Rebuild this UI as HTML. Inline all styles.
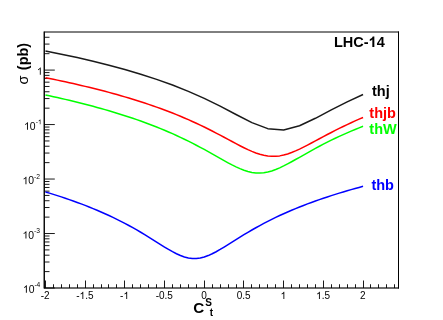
<!DOCTYPE html>
<html><head><meta charset="utf-8"><style>
html,body{margin:0;padding:0;background:#fff;}
svg{display:block;will-change:transform;font-family:"Liberation Sans",sans-serif;}
</style></head><body>
<svg width="443" height="320" viewBox="0 0 443 320">
<rect x="0" y="0" width="443" height="320" fill="#fff"/>
<path d="M44.3 32H399M398.5 31.5V288.5M44.3 288H399" fill="none" stroke="#000" stroke-width="1"/>
<line x1="44.25" y1="31.5" x2="44.25" y2="288.5" stroke="#000" stroke-width="1.4"/>
<line x1="44.3" y1="288" x2="398.7" y2="288" stroke="#000" stroke-width="0.3"/>
<g stroke="#000" stroke-width="0.9">
<line x1="45.50" y1="288" x2="45.50" y2="280.50"/>
<line x1="53.50" y1="288" x2="53.50" y2="284.25"/>
<line x1="61.50" y1="288" x2="61.50" y2="284.25"/>
<line x1="69.50" y1="288" x2="69.50" y2="284.25"/>
<line x1="77.50" y1="288" x2="77.50" y2="284.25"/>
<line x1="85.50" y1="288" x2="85.50" y2="280.50"/>
<line x1="93.50" y1="288" x2="93.50" y2="284.25"/>
<line x1="101.50" y1="288" x2="101.50" y2="284.25"/>
<line x1="108.50" y1="288" x2="108.50" y2="284.25"/>
<line x1="116.50" y1="288" x2="116.50" y2="284.25"/>
<line x1="124.50" y1="288" x2="124.50" y2="280.50"/>
<line x1="132.50" y1="288" x2="132.50" y2="284.25"/>
<line x1="140.50" y1="288" x2="140.50" y2="284.25"/>
<line x1="148.50" y1="288" x2="148.50" y2="284.25"/>
<line x1="156.50" y1="288" x2="156.50" y2="284.25"/>
<line x1="164.50" y1="288" x2="164.50" y2="280.50"/>
<line x1="172.50" y1="288" x2="172.50" y2="284.25"/>
<line x1="180.50" y1="288" x2="180.50" y2="284.25"/>
<line x1="188.50" y1="288" x2="188.50" y2="284.25"/>
<line x1="196.50" y1="288" x2="196.50" y2="284.25"/>
<line x1="204.50" y1="288" x2="204.50" y2="280.50"/>
<line x1="212.50" y1="288" x2="212.50" y2="284.25"/>
<line x1="220.50" y1="288" x2="220.50" y2="284.25"/>
<line x1="228.50" y1="288" x2="228.50" y2="284.25"/>
<line x1="236.50" y1="288" x2="236.50" y2="284.25"/>
<line x1="243.50" y1="288" x2="243.50" y2="280.50"/>
<line x1="251.50" y1="288" x2="251.50" y2="284.25"/>
<line x1="259.50" y1="288" x2="259.50" y2="284.25"/>
<line x1="267.50" y1="288" x2="267.50" y2="284.25"/>
<line x1="275.50" y1="288" x2="275.50" y2="284.25"/>
<line x1="283.50" y1="288" x2="283.50" y2="280.50"/>
<line x1="291.50" y1="288" x2="291.50" y2="284.25"/>
<line x1="299.50" y1="288" x2="299.50" y2="284.25"/>
<line x1="307.50" y1="288" x2="307.50" y2="284.25"/>
<line x1="315.50" y1="288" x2="315.50" y2="284.25"/>
<line x1="323.50" y1="288" x2="323.50" y2="280.50"/>
<line x1="331.50" y1="288" x2="331.50" y2="284.25"/>
<line x1="339.50" y1="288" x2="339.50" y2="284.25"/>
<line x1="347.50" y1="288" x2="347.50" y2="284.25"/>
<line x1="355.50" y1="288" x2="355.50" y2="284.25"/>
<line x1="363.50" y1="288" x2="363.50" y2="280.50"/>
<line x1="370.50" y1="288" x2="370.50" y2="284.25"/>
<line x1="378.50" y1="288" x2="378.50" y2="284.25"/>
<line x1="386.50" y1="288" x2="386.50" y2="284.25"/>
<line x1="394.50" y1="288" x2="394.50" y2="284.25"/>
<line x1="44.3" y1="288.00" x2="54.80" y2="288.00"/>
<line x1="44.3" y1="271.60" x2="49.50" y2="271.60"/>
<line x1="44.3" y1="262.01" x2="49.50" y2="262.01"/>
<line x1="44.3" y1="255.20" x2="49.50" y2="255.20"/>
<line x1="44.3" y1="249.92" x2="49.50" y2="249.92"/>
<line x1="44.3" y1="245.61" x2="49.50" y2="245.61"/>
<line x1="44.3" y1="241.96" x2="49.50" y2="241.96"/>
<line x1="44.3" y1="238.80" x2="49.50" y2="238.80"/>
<line x1="44.3" y1="236.01" x2="49.50" y2="236.01"/>
<line x1="44.3" y1="233.52" x2="54.80" y2="233.52"/>
<line x1="44.3" y1="217.12" x2="49.50" y2="217.12"/>
<line x1="44.3" y1="207.53" x2="49.50" y2="207.53"/>
<line x1="44.3" y1="200.72" x2="49.50" y2="200.72"/>
<line x1="44.3" y1="195.44" x2="49.50" y2="195.44"/>
<line x1="44.3" y1="191.13" x2="49.50" y2="191.13"/>
<line x1="44.3" y1="187.48" x2="49.50" y2="187.48"/>
<line x1="44.3" y1="184.32" x2="49.50" y2="184.32"/>
<line x1="44.3" y1="181.53" x2="49.50" y2="181.53"/>
<line x1="44.3" y1="179.04" x2="54.80" y2="179.04"/>
<line x1="44.3" y1="162.64" x2="49.50" y2="162.64"/>
<line x1="44.3" y1="153.05" x2="49.50" y2="153.05"/>
<line x1="44.3" y1="146.24" x2="49.50" y2="146.24"/>
<line x1="44.3" y1="140.96" x2="49.50" y2="140.96"/>
<line x1="44.3" y1="136.65" x2="49.50" y2="136.65"/>
<line x1="44.3" y1="133.00" x2="49.50" y2="133.00"/>
<line x1="44.3" y1="129.84" x2="49.50" y2="129.84"/>
<line x1="44.3" y1="127.05" x2="49.50" y2="127.05"/>
<line x1="44.3" y1="124.56" x2="54.80" y2="124.56"/>
<line x1="44.3" y1="108.16" x2="49.50" y2="108.16"/>
<line x1="44.3" y1="98.57" x2="49.50" y2="98.57"/>
<line x1="44.3" y1="91.76" x2="49.50" y2="91.76"/>
<line x1="44.3" y1="86.48" x2="49.50" y2="86.48"/>
<line x1="44.3" y1="82.17" x2="49.50" y2="82.17"/>
<line x1="44.3" y1="78.52" x2="49.50" y2="78.52"/>
<line x1="44.3" y1="75.36" x2="49.50" y2="75.36"/>
<line x1="44.3" y1="72.57" x2="49.50" y2="72.57"/>
<line x1="44.3" y1="70.08" x2="54.80" y2="70.08"/>
<line x1="44.3" y1="53.68" x2="49.50" y2="53.68"/>
<line x1="44.3" y1="44.09" x2="49.50" y2="44.09"/>
<line x1="44.3" y1="37.28" x2="49.50" y2="37.28"/>
</g>
<path d="M45.45 50.94 L61.33 54.15 L77.21 57.57 L93.09 61.25 L108.97 65.22 L124.85 69.52 L140.73 74.22 L156.61 79.37 L172.49 85.06 L188.37 91.38 L204.25 98.41 L220.13 106.17 L236.01 114.49 L251.89 122.61 L267.77 128.67 L283.65 129.99 L299.53 125.79 L315.41 118.29 L331.29 109.91 L347.17 101.86 L363.05 94.49" fill="none" stroke="#1a1a1a" stroke-width="1.5" stroke-linejoin="round"/>
<path d="M45.45 77.69 L49.42 78.49 L53.39 79.31 L57.36 80.14 L61.33 80.98 L65.30 81.84 L69.27 82.71 L73.24 83.60 L77.21 84.50 L81.18 85.43 L85.15 86.36 L89.12 87.32 L93.09 88.30 L97.06 89.29 L101.03 90.30 L105.00 91.34 L108.97 92.40 L112.94 93.48 L116.91 94.58 L120.88 95.70 L124.85 96.86 L128.82 98.03 L132.79 99.24 L136.76 100.47 L140.73 101.73 L144.70 103.03 L148.67 104.35 L152.64 105.71 L156.61 107.11 L160.58 108.54 L164.55 110.00 L168.52 111.51 L172.49 113.06 L176.46 114.64 L180.43 116.28 L184.40 117.95 L188.37 119.68 L192.34 121.45 L196.31 123.26 L200.28 125.13 L204.25 127.04 L208.22 129.01 L212.19 131.01 L216.16 133.06 L220.13 135.14 L224.10 137.26 L228.07 139.39 L232.04 141.52 L236.01 143.65 L239.98 145.73 L243.95 147.74 L247.92 149.66 L251.89 151.42 L255.86 152.99 L259.83 154.31 L263.80 155.35 L267.77 156.04 L271.74 156.37 L275.71 156.31 L279.68 155.88 L283.65 155.08 L287.62 153.96 L291.59 152.56 L295.56 150.92 L299.53 149.11 L303.50 147.17 L307.47 145.13 L311.44 143.03 L315.41 140.90 L319.38 138.77 L323.35 136.64 L327.32 134.53 L331.29 132.46 L335.26 130.42 L339.23 128.43 L343.20 126.48 L347.17 124.58 L351.14 122.73 L355.11 120.93 L359.08 119.17 L363.05 117.46" fill="none" stroke="#ff0000" stroke-width="1.5" stroke-linejoin="round"/>
<path d="M45.45 94.96 L49.42 95.81 L53.39 96.68 L57.36 97.57 L61.33 98.47 L65.30 99.39 L69.27 100.32 L73.24 101.28 L77.21 102.25 L81.18 103.24 L85.15 104.26 L89.12 105.29 L93.09 106.34 L97.06 107.42 L101.03 108.52 L105.00 109.65 L108.97 110.80 L112.94 111.97 L116.91 113.18 L120.88 114.41 L124.85 115.67 L128.82 116.97 L132.79 118.29 L136.76 119.65 L140.73 121.05 L144.70 122.48 L148.67 123.95 L152.64 125.46 L156.61 127.02 L160.58 128.61 L164.55 130.26 L168.52 131.94 L172.49 133.68 L176.46 135.47 L180.43 137.31 L184.40 139.21 L188.37 141.15 L192.34 143.15 L196.31 145.21 L200.28 147.31 L204.25 149.46 L208.22 151.65 L212.19 153.87 L216.16 156.12 L220.13 158.37 L224.10 160.60 L228.07 162.79 L232.04 164.89 L236.01 166.87 L239.98 168.67 L243.95 170.23 L247.92 171.50 L251.89 172.42 L255.86 172.95 L259.83 173.06 L263.80 172.75 L267.77 172.02 L271.74 170.93 L275.71 169.51 L279.68 167.82 L283.65 165.93 L287.62 163.88 L291.59 161.74 L295.56 159.52 L299.53 157.28 L303.50 155.03 L307.47 152.79 L311.44 150.58 L315.41 148.41 L319.38 146.28 L323.35 144.20 L327.32 142.18 L331.29 140.20 L335.26 138.28 L339.23 136.41 L343.20 134.60 L347.17 132.84 L351.14 131.12 L355.11 129.45 L359.08 127.83 L363.05 126.26" fill="none" stroke="#00ff00" stroke-width="1.5" stroke-linejoin="round"/>
<path d="M45.45 191.92 L49.42 193.12 L53.39 194.35 L57.36 195.61 L61.33 196.90 L65.30 198.23 L69.27 199.59 L73.24 200.98 L77.21 202.42 L81.18 203.89 L85.15 205.41 L89.12 206.97 L93.09 208.58 L97.06 210.23 L101.03 211.94 L105.00 213.70 L108.97 215.51 L112.94 217.39 L116.91 219.32 L120.88 221.32 L124.85 223.38 L128.82 225.50 L132.79 227.69 L136.76 229.95 L140.73 232.27 L144.70 234.65 L148.67 237.08 L152.64 239.56 L156.61 242.06 L160.58 244.56 L164.55 247.02 L168.52 249.42 L172.49 251.68 L176.46 253.75 L180.43 255.55 L184.40 256.99 L188.37 258.01 L192.34 258.54 L196.31 258.54 L200.28 258.03 L204.25 257.02 L208.22 255.58 L212.19 253.79 L216.16 251.73 L220.13 249.47 L224.10 247.08 L228.07 244.61 L232.04 242.11 L236.01 239.61 L239.98 237.14 L243.95 234.70 L247.92 232.32 L251.89 230.00 L255.86 227.74 L259.83 225.55 L263.80 223.42 L267.77 221.36 L271.74 219.36 L275.71 217.43 L279.68 215.55 L283.65 213.74 L287.62 211.98 L291.59 210.27 L295.56 208.61 L299.53 207.00 L303.50 205.44 L307.47 203.92 L311.44 202.45 L315.41 201.01 L319.38 199.62 L323.35 198.25 L327.32 196.93 L331.29 195.64 L335.26 194.38 L339.23 193.15 L343.20 191.94 L347.17 190.77 L351.14 189.63 L355.11 188.50 L359.08 187.41 L363.05 186.34" fill="none" stroke="#0000ff" stroke-width="1.5" stroke-linejoin="round"/>

<g font-size="10" fill="#000">
<text x="40.70" y="299.00" font-size="10" fill="#000">-2</text>
<text x="76.23" y="299.00" font-size="10" fill="#000">-</text><path transform="translate(79.56,299.00) scale(0.01000,-0.01000)" d="M373 0H285V560Q253 530 201 499Q150 469 109 454V539Q183 574 238 623Q293 673 316 720H373Z" fill="#000"/><text x="85.13" y="299.00" font-size="10" fill="#000">.5</text>
<text x="120.10" y="299.00" font-size="10" fill="#000">-</text><path transform="translate(123.43,299.00) scale(0.01000,-0.01000)" d="M373 0H285V560Q253 530 201 499Q150 469 109 454V539Q183 574 238 623Q293 673 316 720H373Z" fill="#000"/>
<text x="155.63" y="299.00" font-size="10" fill="#000">-0.5</text>
<text x="201.17" y="299.00" font-size="10" fill="#000">0</text>
<text x="236.70" y="299.00" font-size="10" fill="#000">0.5</text>
<path transform="translate(280.57,299.00) scale(0.01000,-0.01000)" d="M373 0H285V560Q253 530 201 499Q150 469 109 454V539Q183 574 238 623Q293 673 316 720H373Z" fill="#000"/>
<path transform="translate(316.10,299.00) scale(0.01000,-0.01000)" d="M373 0H285V560Q253 530 201 499Q150 469 109 454V539Q183 574 238 623Q293 673 316 720H373Z" fill="#000"/><text x="321.66" y="299.00" font-size="10" fill="#000">.5</text>
<text x="359.97" y="299.00" font-size="10" fill="#000">2</text>
<path transform="translate(22.93,292.80) scale(0.01040,-0.01040)" d="M373 0H285V560Q253 530 201 499Q150 469 109 454V539Q183 574 238 623Q293 673 316 720H373Z" fill="#000"/><text x="28.72" y="292.80" font-size="10.4" fill="#000">0</text>
<text x="34.40" y="287.10" font-size="6.7" fill="#000">-4</text>
<path transform="translate(22.53,238.62) scale(0.01040,-0.01040)" d="M373 0H285V560Q253 530 201 499Q150 469 109 454V539Q183 574 238 623Q293 673 316 720H373Z" fill="#000"/><text x="28.32" y="238.62" font-size="10.4" fill="#000">0</text>
<text x="34.00" y="233.22" font-size="6.7" fill="#000">-3</text>
<path transform="translate(22.53,184.14) scale(0.01040,-0.01040)" d="M373 0H285V560Q253 530 201 499Q150 469 109 454V539Q183 574 238 623Q293 673 316 720H373Z" fill="#000"/><text x="28.32" y="184.14" font-size="10.4" fill="#000">0</text>
<text x="34.00" y="178.74" font-size="6.7" fill="#000">-2</text>
<path transform="translate(24.03,129.66) scale(0.01040,-0.01040)" d="M373 0H285V560Q253 530 201 499Q150 469 109 454V539Q183 574 238 623Q293 673 316 720H373Z" fill="#000"/><text x="29.82" y="129.66" font-size="10.4" fill="#000">0</text>
<text x="35.70" y="124.26" font-size="6.7" fill="#000">-</text><path transform="translate(37.93,124.26) scale(0.00670,-0.00670)" d="M373 0H285V560Q253 530 201 499Q150 469 109 454V539Q183 574 238 623Q293 673 316 720H373Z" fill="#000"/>
<path transform="translate(36.93,74.78) scale(0.01020,-0.01020)" d="M373 0H285V560Q253 530 201 499Q150 469 109 454V539Q183 574 238 623Q293 673 316 720H373Z" fill="#000"/>
</g>
<g font-weight="bold" font-size="14.5">
<text x="334.00" y="47.00" font-size="14.5" font-weight="bold" fill="#000">LHC-</text><path transform="translate(368.63,47.00) scale(0.01450,-0.01450)" d="M394 0H256V517Q181 447 79 413V538Q133 555 196 604Q259 653 282 719H394Z" fill="#000"/><text x="376.69" y="47.00" font-size="14.5" font-weight="bold" fill="#000">4</text>
<text x="372" y="95.75" fill="#000">thj</text>
<text x="369.3" y="118.3" fill="#ff0000">thjb</text>
<text x="369.3" y="134.3" fill="#00ff00">thW</text>
<text x="371.4" y="189.8" fill="#0000ff">thb</text>
<text x="193.2" y="313" font-size="15.2" fill="#000">C</text>
<text x="205.2" y="305.5" font-size="10" fill="#000">S</text>
<text x="209.8" y="315.5" font-size="10" fill="#000">t</text>
<text transform="translate(28.1,84.6) rotate(-90)" fill="#000" font-weight="normal">σ</text>
<text transform="translate(28.1,70.2) rotate(-90)" fill="#000">(pb)</text>
</g>
</svg>
</body></html>
